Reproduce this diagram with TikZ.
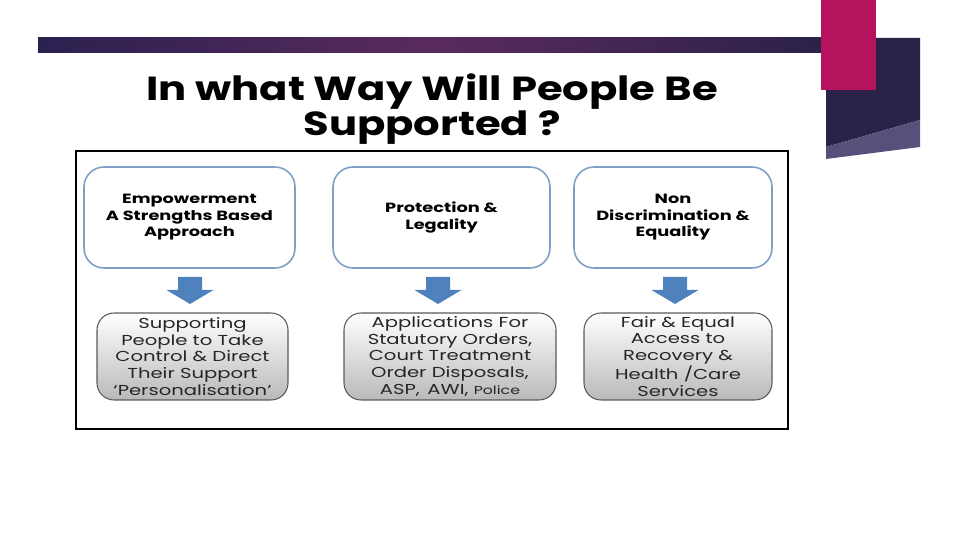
\documentclass[tikz,border=0pt]{standalone}
\usepackage{fontspec}
\setmainfont{Poppins}
\newfontfamily\titlefont[FakeStretch=1.25,Ligatures=TeX]{Poppins}
\newfontfamily\headfont[FakeStretch=1.33,Ligatures=TeX]{Poppins}
\newfontfamily\boxfont[FakeStretch=1.36,Ligatures=TeX]{Poppins}
\usetikzlibrary{positioning}

\definecolor{barnavy}{HTML}{2B2150}
\definecolor{barplum}{HTML}{5A2A5E}
\definecolor{blockdark}{HTML}{2B2247}
\definecolor{blocklight}{HTML}{58507A}
\definecolor{accent}{HTML}{B5135E}
\definecolor{topline}{HTML}{7F9FC6}
\definecolor{arrowblue}{HTML}{4F81BD}
\definecolor{botline}{HTML}{5A5A5A}

\tikzset{
  headbox/.style={draw=topline, line width=0.9pt, fill=white, rounded corners=0.4cm,
    minimum width=#1*0.02cm, minimum height=2.02cm, align=center,
    font=\headfont\bfseries\fontsize{7.6}{9.4}\selectfont, inner sep=0pt},
  outbox/.style={draw=botline, line width=0.6pt, top color=white, bottom color=gray!55,
    rounded corners=0.34cm, minimum width=#1*0.02cm, minimum height=1.74cm, align=center,
    font=\boxfont\fontsize{8.2}{9.6}\selectfont, text=black!85, inner sep=0pt},
}

\begin{document}
\begin{tikzpicture}[x=0.02cm, y=-0.02cm]

    \useasboundingbox (0,0) rectangle (960,540);

    % slide decoration
    \shade[left color=barnavy, right color=blockdark, middle color=barplum] (38,38) rectangle (826,53);
    \fill[blockdark] (826,38) -- (920,38) -- (920,120) -- (826,147) -- cycle;
    \fill[blocklight] (826,147) -- (920,120) -- (920,147) -- (826,159) -- cycle;
    \fill[accent] (821,0) rectangle (876,90);

    % title
    \node[align=center, font=\titlefont\bfseries\fontsize{19}{20.4}\selectfont] (title) at (432,109)
        {In what Way Will People Be\\Supported ?};

    % frame
    \draw[line width=1.1pt] (76,151) rectangle (788,429);

    % principles
    \node[headbox=211] (emp) at (189.5,217.5) {Empowerment\\A Strengths Based\\Approach};
    \node[headbox=217] (pro) at (441.5,217.5) {Protection \&\\Legality};
    \node[headbox=198] (non) at (673,217.5) {Non\\Discrimination \&\\Equality};

    % what they mean
    \node[outbox=191] (sup) at (192.5,356.5)
        {Supporting\\People to Take\\Control \& Direct\\Their Support\\‘Personalisation’};
    \node[outbox=212] (app) at (450,356.5)
        {Applications For\\Statutory Orders,\\Court Treatment\\Order Disposals,\\ASP,\, AWI, {\fontsize{6.6}{9.6}\selectfont Police}};
    \node[outbox=188] (fai) at (678,356.5)
        {Fair \& Equal\\Access to\\Recovery \&\\Health /Care\\Services};

    % block arrows
    \foreach \cx in {190,438,675} {
        \fill[arrowblue] (\cx-12,277) -- (\cx+12,277) -- (\cx+12,290) -- (\cx+23.5,290)
            -- (\cx,304) -- (\cx-23.5,290) -- (\cx-12,290) -- cycle;
    }

\end{tikzpicture}
\end{document}
